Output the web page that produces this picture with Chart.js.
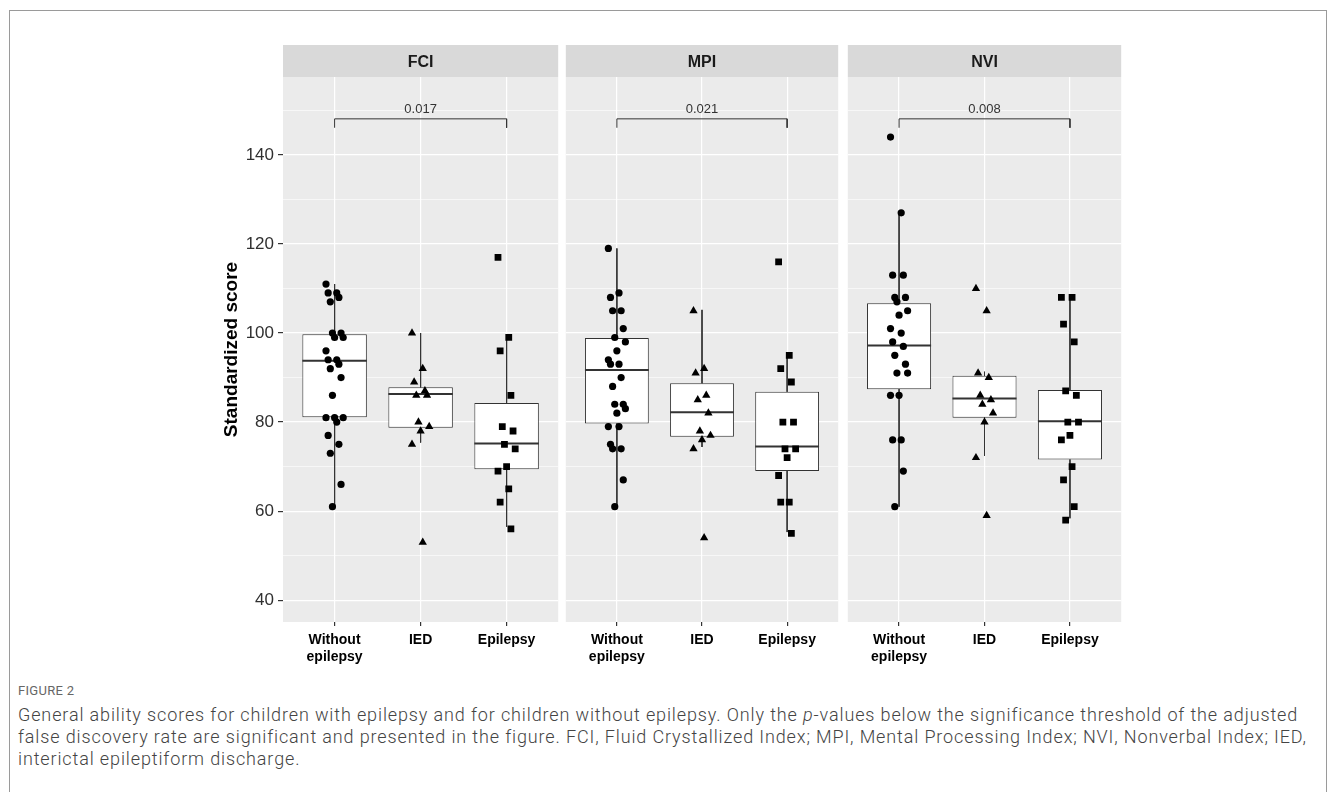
<!DOCTYPE html>
<html>
<head>
<meta charset="utf-8">
<script src="https://cdn.jsdelivr.net/npm/chart.js@4.4.0/dist/chart.umd.min.js"></script>
<style>
  body { margin: 0; background: #fff; }
  #frame { position: absolute; left: 9px; top: 10px; width: 1316px; height: 790px; border: 1px solid #9a9a9a; border-bottom: none; }
  canvas { position: absolute; top: 45px; }
  #fig { position: absolute; left: 18px; top: 683px; font: 13px "Roboto", sans-serif; color: #666; letter-spacing: 0.3px; }
  #cap { position: absolute; left: 18px; top: 704px; font: 300 18px "Roboto", sans-serif; color: #444; line-height: 22px; white-space: nowrap; letter-spacing: 0.87px; }
</style>
</head>
<body>
<div id="frame"></div>
<canvas id="fci" width="363" height="635" style="left:200px"></canvas>
<canvas id="mpi" width="282" height="635" style="left:561px"></canvas>
<canvas id="nvi" width="283" height="635" style="left:843px"></canvas>
<div id="fig">FIGURE 2</div>
<div id="cap">General ability scores for children with epilepsy and for children without epilepsy. Only the <i>p</i>-values below the significance threshold of the adjusted<br>false discovery rate are significant and presented in the figure. FCI, Fluid Crystallized Index; MPI, Mental Processing Index; NVI, Nonverbal Index; IED,<br>interictal epileptiform discharge.</div>
<script>
// groups on the x axis
var categories = ['Without epilepsy', 'IED', 'Epilepsy'];
var yTicks = [40, 60, 80, 100, 120, 140];

// scores
var fciWithout = [111, 109, 109, 108, 107, 100, 100, 99, 99, 96, 94, 94, 93, 92, 90, 86, 81, 81, 81, 80, 77, 75, 73, 66, 61];
var fciIed = [100, 92, 89, 87, 86, 86, 80, 79, 78, 75, 53];
var fciEpilepsy = [117, 99, 96, 86, 79, 78, 75, 74, 70, 69, 65, 62, 56];
var mpiWithout = [119, 109, 108, 105, 105, 101, 99, 98, 96, 94, 93, 93, 90, 88, 84, 84, 83, 82, 79, 79, 75, 74, 74, 67, 61];
var mpiIed = [105, 92, 91, 86, 85, 82, 78, 77, 76, 74, 54];
var mpiEpilepsy = [116, 95, 92, 89, 80, 80, 74, 74, 72, 68, 62, 62, 55];
var nviWithout = [144, 127, 113, 113, 108, 108, 107, 105, 104, 101, 100, 98, 97, 95, 93, 91, 91, 86, 86, 76, 76, 69, 61];
var nviIed = [110, 105, 91, 90, 86, 85, 84, 82, 80, 72, 59];
var nviEpilepsy = [108, 108, 102, 98, 87, 86, 80, 80, 77, 76, 70, 67, 61, 58];

// box stats: [lower whisker, q1, median, q3, upper whisker]
var fciBoxes = [[61, 81.1, 93.8, 99.7, 111], [75.4, 78.7, 86.3, 87.8, 100], [56.5, 69.4, 75.2, 84.3, 99.3]];
var mpiBoxes = [[61, 79.7, 91.7, 98.9, 119], [74.4, 76.7, 82.2, 88.7, 105.2], [55.3, 69.0, 74.5, 86.8, 95.4]];
var nviBoxes = [[61, 87.4, 97.2, 106.7, 127], [72.4, 81.0, 85.3, 90.4, 91.3], [58.4, 71.6, 80.2, 87.2, 108.3]];

// significance brackets (Without epilepsy vs Epilepsy)
var pValues = ['0.017', '0.021', '0.008'];
var bracketTop = 148.1;
var bracketFoot = 146.1;

var Y_MIN = 35.1, Y_MAX = 157.5;
var shapes = ['circle', 'triangle', 'rect'];
var radii = [3.6, 4.8, 4.8];

function jit(i) { return ((i * 5) % 9 - 4) * 0.025; }

var facetPlugin = {
    id: 'facet',
    beforeDraw: function (chart) {
        var ctx = chart.ctx, a = chart.chartArea;
        ctx.save();
        ctx.fillStyle = '#EBEBEB';
        ctx.fillRect(a.left, a.top, a.right - a.left, a.bottom - a.top);
        ctx.fillStyle = '#D9D9D9';
        ctx.fillRect(a.left, a.top - 32, a.right - a.left, 32);
        ctx.fillStyle = '#1A1A1A';
        ctx.font = 'bold 16px "Liberation Sans", Arial, sans-serif';
        ctx.textAlign = 'center';
        ctx.textBaseline = 'middle';
        ctx.fillText(chart.options.plugins.facet.title, (a.left + a.right) / 2, a.top - 14);
        ctx.restore();
    },
    afterDatasetsDraw: function (chart) {
        var ctx = chart.ctx;
        var x = chart.scales.x.getPixelForValue(2);
        var y = chart.scales.y.getPixelForValue(bracketTop);
        ctx.save();
        ctx.fillStyle = '#333';
        ctx.font = '13px "Liberation Sans", Arial, sans-serif';
        ctx.textAlign = 'center';
        ctx.textBaseline = 'bottom';
        ctx.fillText(chart.options.plugins.facet.p, x, y - 3);
        ctx.restore();
    }
};

function makePanel(id, title, groups, boxes, p, showY) {
    var datasets = [];
    groups.forEach(function (vals, g) {
        datasets.push({
            type: 'scatter',
            order: 0,
            data: vals.map(function (v, i) { return { x: g + 1 + jit(i), y: v }; }),
            pointStyle: shapes[g],
            pointRadius: radii[g],
            backgroundColor: '#000',
            borderColor: '#000',
            borderWidth: 0
        });
    });
    var med = [], whisk = [];
    boxes.forEach(function (b, g) {
        var c = g + 1;
        med.push({ x: c - 0.375, y: b[2] }, { x: c + 0.375, y: b[2] }, { x: c, y: null });
        whisk.push({ x: c, y: b[4] }, { x: c, y: b[3] }, { x: c, y: null });
        whisk.push({ x: c, y: b[1] }, { x: c, y: b[0] }, { x: c, y: null });
    });
    datasets.push({
        type: 'line', order: 1, data: med, borderColor: '#333', borderWidth: 2,
        pointRadius: 0, spanGaps: false
    });
    datasets.push({
        type: 'bar', order: 2,
        data: boxes.map(function (b, g) { return { x: g + 1, y: [b[1], b[3]] }; }),
        backgroundColor: '#fff', borderColor: '#333', borderWidth: 1,
        borderSkipped: false, categoryPercentage: 1, barPercentage: 0.75
    });
    datasets.push({
        type: 'line', order: 3, data: whisk, borderColor: '#333', borderWidth: 1,
        pointRadius: 0, spanGaps: false
    });
    datasets.push({
        type: 'line', order: 0,
        data: [{ x: 1, y: bracketFoot }, { x: 1, y: bracketTop }, { x: 3, y: bracketTop }, { x: 3, y: bracketFoot }],
        borderColor: '#333', borderWidth: 1, pointRadius: 0
    });

    return new Chart(document.getElementById(id), {
        type: 'scatter',
        data: { datasets: datasets },
        plugins: [facetPlugin],
        options: {
            responsive: false,
            animation: false,
            layout: { padding: { top: 32, left: 0, right: 0, bottom: 0 } },
            plugins: {
                legend: { display: false },
                tooltip: { enabled: false },
                facet: { title: title, p: p }
            },
            scales: {
                x: {
                    type: 'linear', min: 0.4, max: 3.6, offset: false,
                    afterBuildTicks: function (s) { s.ticks = categories.map(function (c, i) { return { value: i + 1 }; }); },
                    afterFit: function (s) { s.height = 58; },
                    grid: { color: '#fff', lineWidth: 1.2, tickColor: '#333', tickLength: 4, offset: false },
                    border: { display: false },
                    ticks: {
                        autoSkip: false, maxRotation: 0, padding: 5,
                        color: '#000',
                        font: { family: '"Liberation Sans", Arial, sans-serif', size: 14, weight: 'bold', lineHeight: 1.25 },
                        callback: function (v) { return categories[v - 1].split(' '); }
                    }
                },
                y: {
                    min: Y_MIN, max: Y_MAX,
                    afterBuildTicks: function (s) {
                        var t = [];
                        for (var v = 40; v <= 150; v += 10) t.push({ value: v });
                        s.ticks = t;
                    },
                    afterFit: function (s) { s.width = showY ? 83 : 0; },
                    grid: {
                        color: '#fff',
                        lineWidth: function (c) { return c.tick && yTicks.indexOf(c.tick.value) >= 0 ? 1.2 : 0.6; },
                        drawTicks: showY,
                        tickLength: 5,
                        tickColor: function (c) { return c.tick && yTicks.indexOf(c.tick.value) >= 0 ? '#333' : 'rgba(0,0,0,0)'; }
                    },
                    border: { display: false },
                    title: {
                        display: showY, text: 'Standardized score', color: '#000',
                        font: { family: '"Liberation Sans", Arial, sans-serif', size: 19, weight: 'bold' },
                        padding: { top: 20, bottom: 0 }
                    },
                    ticks: {
                        display: showY, padding: 4, color: '#303030',
                        font: { family: '"Liberation Sans", Arial, sans-serif', size: 17 },
                        callback: function (v) { return yTicks.indexOf(v) >= 0 ? String(v) : ''; }
                    }
                }
            }
        }
    });
}

makePanel('fci', 'FCI', [fciWithout, fciIed, fciEpilepsy], fciBoxes, pValues[0], true);
makePanel('mpi', 'MPI', [mpiWithout, mpiIed, mpiEpilepsy], mpiBoxes, pValues[1], false);
makePanel('nvi', 'NVI', [nviWithout, nviIed, nviEpilepsy], nviBoxes, pValues[2], false);
</script>
</body>
</html>
